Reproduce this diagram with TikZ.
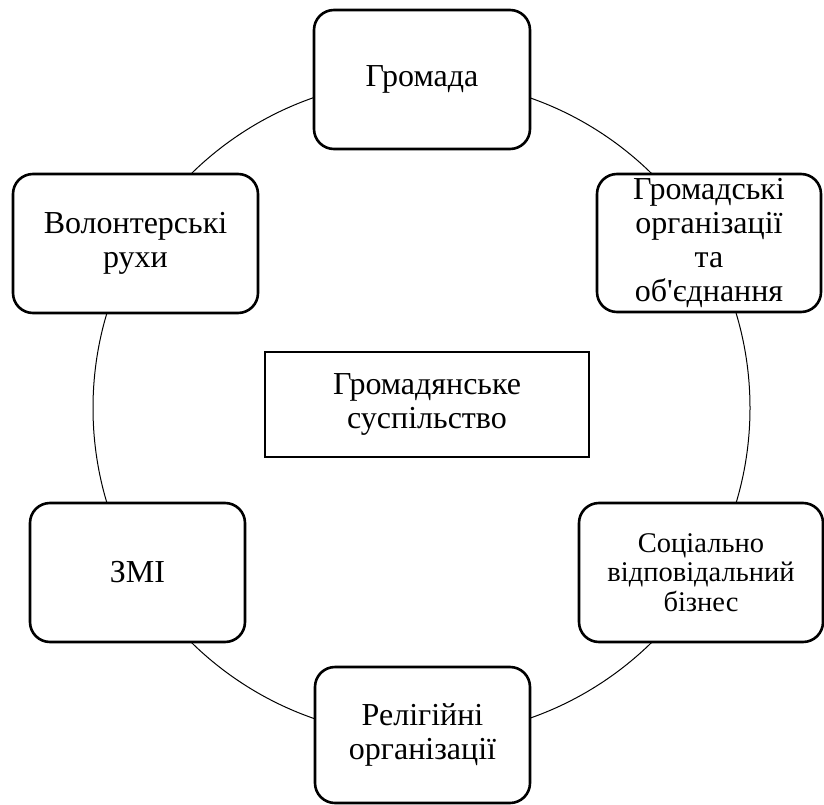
\documentclass[tikz,border=0pt]{standalone}
\usepackage{fontspec}
\setmainfont{Liberation Serif}[Ligatures=TeXOff]
\begin{document}
\begin{tikzpicture}[x=1pt,y=-1pt,
  box/.style={draw=black, line width=2.6pt, rounded corners=20pt, fill=white,
    align=center, inner sep=0pt, font=\fontsize{32}{34}\selectfont},
  smallbox/.style={box, font=\fontsize{28.5}{29.5}\selectfont},
  centerbox/.style={draw=black, line width=2.6pt, fill=white,
    align=center, inner sep=0pt, font=\fontsize{32}{34}\selectfont},
  ring/.style={draw=black, line width=1pt}]
\useasboundingbox (0,0) rectangle (824,805);
\node[ring, circle, minimum size=657pt, inner sep=0pt] (ringc) at (421.5,408) {};
\node[box, minimum width=216pt, minimum height=139pt] (hromada) at (422,79.5) {Громада};
\node[box, minimum width=224pt, minimum height=138pt] (orgs) at (709,243) {Громадські\\організації\\та\\об'єднання};
\node[box, minimum width=245pt, minimum height=139pt] (volunt) at (135.5,243.5) {Волонтерські\\рухи};
\node[centerbox, minimum width=324pt, minimum height=105pt] (civil) at (427,404.5) {Громадянське\\суспільство};
\node[box, minimum width=215pt, minimum height=139pt] (zmi) at (137.5,572.5) {ЗМІ};
\node[smallbox, minimum width=244pt, minimum height=139pt] (biz) at (701,572.5) {Соціально\\відповідальний\\бізнес};
\node[box, minimum width=215pt, minimum height=136pt] (relig) at (422.5,735) {Релігійні\\організації};
\end{tikzpicture}
\end{document}
